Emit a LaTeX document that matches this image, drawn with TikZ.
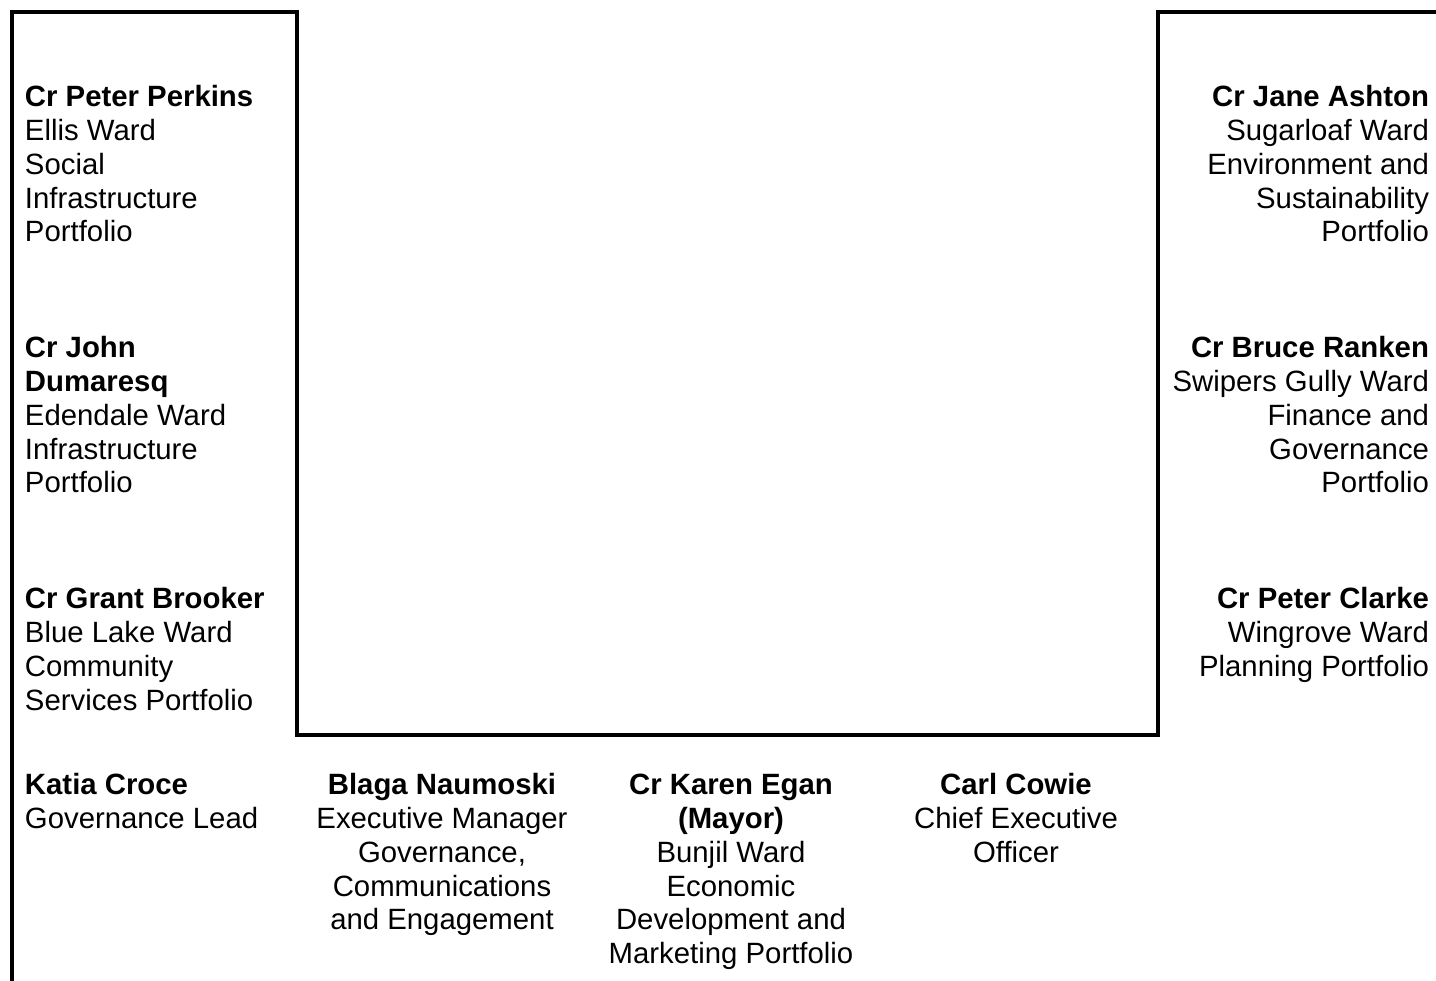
\documentclass[tikz,border=0pt]{standalone}
\usepackage{fontspec}
\setmainfont{Liberation Sans}
\begin{document}
\begin{tikzpicture}[x=0.75pt,y=-0.75pt,
  seat/.style={inner sep=0pt, outer sep=0pt, font=\fontsize{22}{25.3}\selectfont},
  % nodes are placed by the baseline of their last line
  leftseat/.style={seat, align=left, anchor=base west},
  rightseat/.style={seat, align=right, anchor=base east},
  midseat/.style={seat, align=center, anchor=base},
  table/.style={line width=3pt, line join=miter}]
\useasboundingbox (0,0) rectangle (1436,981);

% table outline
\coordinate (a) at (12,981);
\coordinate (b) at (12,12);
\coordinate (c) at (297,12);
\coordinate (d) at (297,735);
\coordinate (e) at (1158,735);
\coordinate (f) at (1158,12);
\coordinate (g) at (1436,12);
\draw[table] (a) -- (b) -- (c) -- (d) -- (e) -- (f) -- (g);

% left side
\node[leftseat] (perkins) at (25,241.8) {\textbf{Cr Peter Perkins}\\Ellis Ward\\Social\\Infrastructure\\Portfolio};
\node[leftseat] (dumaresq) at (25,492.8) {\textbf{Cr John}\\\textbf{Dumaresq}\\Edendale Ward\\Infrastructure\\Portfolio};
\node[leftseat] (brooker) at (25,710.1) {\textbf{Cr Grant Brooker}\\Blue Lake Ward\\Community\\Services Portfolio};

% right side
\node[rightseat] (ashton) at (1429,241.8) {\textbf{Cr Jane Ashton}\\Sugarloaf Ward\\Environment and\\Sustainability\\Portfolio};
\node[rightseat] (ranken) at (1429,492.8) {\textbf{Cr Bruce Ranken}\\Swipers Gully Ward\\Finance and\\Governance\\Portfolio};
\node[rightseat] (clarke) at (1429,676.4) {\textbf{Cr Peter Clarke}\\Wingrove Ward\\Planning Portfolio};

% front row
\node[leftseat] (croce) at (25,828.7) {\textbf{Katia Croce}\\Governance Lead};
\node[midseat] (naumoski) at (442,929.8) {\textbf{Blaga Naumoski}\\Executive Manager\\Governance,\\Communications\\and Engagement};
\node[midseat] (egan) at (731,963.5) {\textbf{Cr Karen Egan}\\\textbf{(Mayor)}\\Bunjil Ward\\Economic\\Development and\\Marketing Portfolio};
\node[midseat] (cowie) at (1016,862.4) {\textbf{Carl Cowie}\\Chief Executive\\Officer};
\end{tikzpicture}
\end{document}
